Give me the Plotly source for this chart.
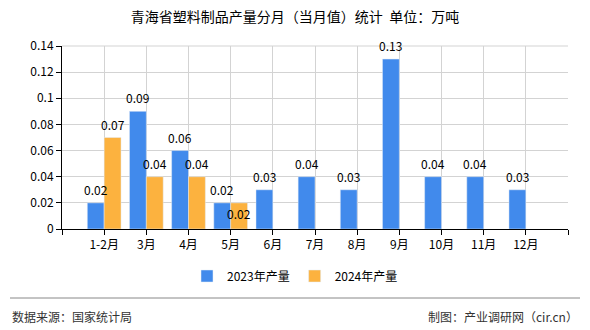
import plotly.graph_objects as go

categories = ["1-2月", "3月", "4月", "5月", "6月", "7月", "8月", "9月", "10月", "11月", "12月"]
values_2023 = [0.02, 0.09, 0.06, 0.02, 0.03, 0.04, 0.03, 0.13, 0.04, 0.04, 0.03]
values_2024 = [0.07, 0.04, 0.04, 0.02]
series_names = ["2023年产量", "2024年产量"]
y_ticks = [0, 0.02, 0.04, 0.06, 0.08, 0.1, 0.12, 0.14]
y_ticklabels = ["0", "0.02", "0.04", "0.06", "0.08", "0.1", "0.12", "0.14"]

FONT = "Noto Sans CJK SC, Noto Sans, sans-serif"
BLUE = "#418AEC"
ORANGE = "#FCB23F"

xs = list(range(len(categories)))

W, H = 590, 330
L, R, T, B = 62, 22, 46, 101
PW = W - L - R
PH = H - T - B


def px_x(p):
    return (p - L) / PW


def px_y(p):
    return (H - B - p) / PH


fig = go.Figure()
fig.add_trace(go.Bar(x=xs, y=values_2023, name=series_names[0], marker_color=BLUE))
fig.add_trace(go.Bar(x=xs[:len(values_2024)], y=values_2024, name=series_names[1],
                     marker_color=ORANGE))

# data labels (bars of a group are 0.4 wide, offset +-0.2 from the category)
for i, v in enumerate(values_2023):
    fig.add_annotation(x=xs[i] - 0.2, y=v, text=f"{v:g}", showarrow=False,
                       xref="x", yref="y", yanchor="bottom", yshift=3,
                       font=dict(size=12, color="#000", family=FONT))
for i, v in enumerate(values_2024):
    inside = (i == 3)
    fig.add_annotation(x=xs[i] + 0.2, y=v, text=f"{v:g}", showarrow=False,
                       xref="x", yref="y",
                       yanchor="top" if inside else "bottom",
                       yshift=0 if inside else 3,
                       font=dict(size=12, color="#000", family=FONT))

fig.update_layout(
    width=W, height=H,
    margin=dict(l=L, r=R, t=T, b=B, autoexpand=False),
    paper_bgcolor="white", plot_bgcolor="white",
    barmode="group", bargap=0.2, bargroupgap=0,
    font=dict(family=FONT, size=12, color="#000"),
    title=dict(text="青海省塑料制品产量分月（当月值）统计  单位：万吨",
               x=0.5, xref="container", xanchor="center",
               y=1 - 17 / H, yref="container", yanchor="middle",
               font=dict(size=14, color="#000", family=FONT)),
    legend=dict(orientation="h", xref="container", x=0.5, xanchor="center",
                yref="container", y=1 - 276 / H, yanchor="middle",
                font=dict(size=12, color="#000", family=FONT),
                itemwidth=30, traceorder="normal"),
)

fig.update_xaxes(
    range=[-1, len(categories)],
    tickmode="array",
    tickvals=list(range(-1, len(categories) + 1)),
    ticktext=[""] + categories + [""],
    showgrid=True, gridcolor="#d3d3d3", gridwidth=1,
    showline=True, linecolor="#000", linewidth=1,
    ticks="outside", ticklen=5, tickcolor="#000",
    tickfont=dict(size=12, color="#000", family=FONT),
    zeroline=False, automargin=False,
)
fig.update_yaxes(
    range=[0, 0.14],
    tickmode="array", tickvals=y_ticks, ticktext=y_ticklabels,
    showgrid=True, gridcolor="#d3d3d3", gridwidth=1,
    showline=True, linecolor="#000", linewidth=1,
    ticks="outside", ticklen=5, tickcolor="#000",
    tickfont=dict(size=12, color="#000", family=FONT),
    zeroline=False, automargin=False,
)

# top border of the plot area (grid-coloured)
fig.add_shape(type="line", xref="paper", yref="paper", x0=0, x1=1, y0=1, y1=1,
              line=dict(color="#d3d3d3", width=1))

# footer
fig.add_shape(type="line", xref="paper", yref="paper",
              x0=px_x(10), x1=px_x(580), y0=px_y(298), y1=px_y(298),
              line=dict(color="#888", width=1))
fig.add_annotation(text="数据来源：国家统计局", xref="paper", yref="paper",
                   x=px_x(10), y=px_y(316), xanchor="left", yanchor="middle",
                   showarrow=False, font=dict(size=12, color="#333", family=FONT))
fig.add_annotation(text="制图：产业调研网（cir.cn）", xref="paper", yref="paper",
                   x=px_x(580), y=px_y(316), xanchor="right", yanchor="middle",
                   showarrow=False, font=dict(size=12, color="#333", family=FONT))

fig.write_html("out.html")
